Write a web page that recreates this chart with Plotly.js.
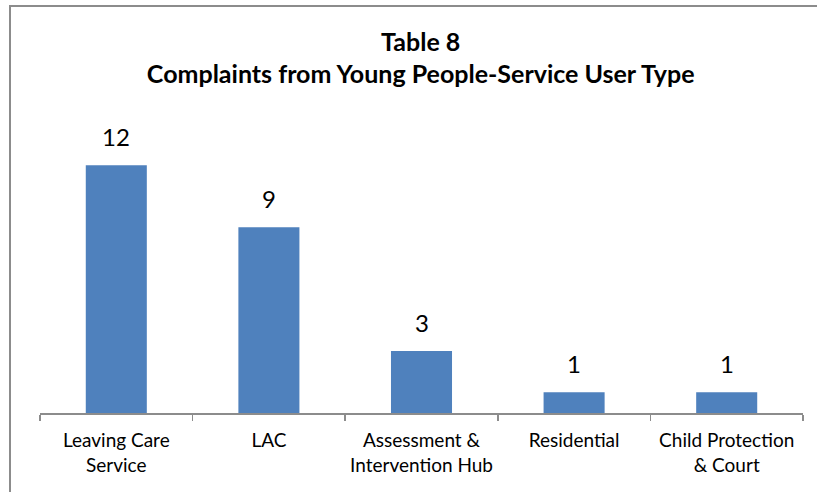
<!DOCTYPE html>
<html>
<head>
<meta charset="utf-8">
<script src="https://cdn.plot.ly/plotly-3.0.1.min.js"></script>
<style>
  html, body { margin: 0; padding: 0; background: #fff; }
  #wrap { position: relative; width: 817px; height: 492px; overflow: hidden; }
  #frame { position: absolute; left: 9px; top: 5px; width: 830px; height: 500px;
           border-left: 2px solid #8c8c8c; border-top: 2px solid #8c8c8c; box-sizing: border-box; pointer-events: none; }
  #chart { position: absolute; left: 0; top: 0; width: 817px; height: 492px; }
</style>
</head>
<body>
<div id="wrap">
  <div id="chart"></div>
  <div id="frame"></div>
</div>
<script>
const categories = [
  "Leaving Care<br>Service",
  "LAC",
  "Assessment &<br>Intervention Hub",
  "Residential",
  "Child Protection<br>& Court"
];
const complaints = [12, 9, 3, 1, 1];
const chartTitle = "<b>Table 8</b><br><b>Complaints from Young People-Service User Type</b>";

const FONT = "Lato, 'Open Sans', sans-serif";

const trace = {
  type: "bar",
  x: categories,
  y: complaints,
  marker: { color: "#4F81BD" },
  hoverinfo: "skip"
};

const annotations = categories.map((c, i) => ({
  x: c, y: complaints[i], xref: "x", yref: "y",
  text: String(complaints[i]), showarrow: false,
  yanchor: "bottom", yshift: 12,
  font: { family: FONT, size: 24, color: "#000" }
}));

const layout = {
  width: 817, height: 492,
  margin: { l: 40, r: 14, t: 124, b: 79 },
  paper_bgcolor: "#fff", plot_bgcolor: "#fff",
  bargap: 0.6,
  showlegend: false,
  title: {
    text: chartTitle,
    x: 0.515, xanchor: "center",
    y: 0.897, yanchor: "top",
    font: { family: FONT, size: 25, color: "#000" }
  },
  xaxis: {
    type: "category",
    showline: true, linecolor: "#8c8c8c", linewidth: 1.5,
    ticks: "outside", tickson: "boundaries", ticklen: 6, tickcolor: "#8c8c8c", tickwidth: 1.5,
    ticklabelstandoff: 10,
    tickfont: { family: FONT, size: 19, color: "#000" },
    showgrid: false, zeroline: false,
    fixedrange: true
  },
  yaxis: {
    range: [0, 14],
    visible: false,
    showgrid: false, zeroline: false,
    fixedrange: true
  },
  annotations: annotations
};

Plotly.newPlot("chart", [trace], layout, { displayModeBar: false, staticPlot: true });
</script>
</body>
</html>
